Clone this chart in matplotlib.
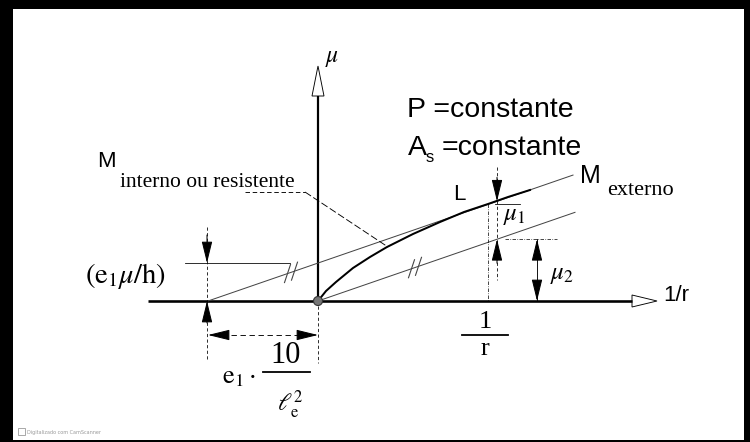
import numpy as np
import matplotlib
matplotlib.use("Agg")
import matplotlib.pyplot as plt
from matplotlib.patches import Polygon, Rectangle, Circle

plt.rcParams['mathtext.fontset'] = 'stix'

# geometry of the diagram (drawing units = pixels, origin at the axes crossing)
slope = 0.345            # slope of the M_externo lines
e_offset = 110           # e1 * 10 / le^2, distance left of the origin
x_r = 170                # position of 1/r on the abscissa
upper_end = 255          # end of the M_externo line
lower_end = 257          # end of the parallel line through the origin

# M_interno curve
curve_x = [0, 8, 18, 35, 52, 69, 95, 122, 146, 170, 190, 212]
curve_y = [0, 10, 19, 33, 44, 54, 67, 79, 89, 97, 104, 111]

# axes extent (tips of the open arrowheads)
x_axis = (-170, 339)
y_axis_top = 235
head = 25

fig = plt.figure(figsize=(7.5, 4.42), dpi=100)
# black scan frame
fig.patches.append(Rectangle((0, 0), 1, 1, transform=fig.transFigure,
                             facecolor='black', edgecolor='none', zorder=-10))
fig.patches.append(Rectangle((13 / 750, 2 / 442), (744 - 13) / 750, (433 - 2) / 442,
                             transform=fig.transFigure, facecolor='white',
                             edgecolor='none', zorder=-9))
ax = fig.add_axes([0, 0, 1, 1])
ax.set_xlim(-318, 750 - 318)
ax.set_ylim(-(442 - 301), 301)
ax.axis('off')
ax.patch.set_alpha(0)

K = 'black'
G = '#444444'
px = 0.72  # points per pixel

def upper(x):
    return slope * (x + e_offset)

def lower(x):
    return slope * x

def arrow(tip, tail, lw=1.0):
    ax.annotate('', xy=tip, xytext=tail,
                arrowprops=dict(arrowstyle='-|>,head_length=0.9,head_width=0.22',
                                mutation_scale=15, lw=lw * px, color=K,
                                shrinkA=0, shrinkB=0))

# axes
ax.plot([x_axis[0], x_axis[1] - head], [0, 0], color=K, lw=2.6 * px,
        solid_capstyle='butt')
ax.plot([0, 0], [0, y_axis_top - 30], color=K, lw=2.2 * px, solid_capstyle='butt')
ax.add_patch(Polygon([[x_axis[1] - head, 6], [x_axis[1], 0], [x_axis[1] - head, -6]],
                     closed=True, facecolor='white', edgecolor=K, lw=0.9 * px))
ax.add_patch(Polygon([[-6, y_axis_top - 30], [0, y_axis_top], [6, y_axis_top - 30]],
                     closed=True, facecolor='white', edgecolor=K, lw=0.9 * px))
ax.add_patch(Circle((0, 0), 4.5, facecolor='#777777', edgecolor='#333333',
                    lw=0.8, zorder=5))

# external moment lines
xu = np.array([-e_offset, upper_end])
ax.plot(xu, upper(xu), color=G, lw=1.0 * px)
xl = np.array([0, lower_end])
ax.plot(xl, lower(xl), color=G, lw=1.0 * px)

# internal (resisting) moment curve
ax.plot(curve_x, curve_y, color=K, lw=2.0 * px)

# parallel marks "//"
for xc, f in [(-27, upper), (97, lower)]:
    for dx in (-3.5, 3.5):
        x0 = xc + dx
        y0 = f(x0)
        ax.plot([x0 - 3, x0 + 3], [y0 - 9, y0 + 9], color=G, lw=1.1 * px)

# leader for M interno
ax.plot([-73, -13], [109, 109], color=K, lw=0.9 * px, dashes=(5, 3))
ax.plot([-13, 70], [109, 54], color=K, lw=0.9 * px, dashes=(8, 3))

# dimension (e1 mu / h)
ax.plot([-e_offset - 1] * 2, [74, -59], color=K, lw=0.8 * px, dashes=(4, 3))
ax.plot([-133, -28], [upper(0), upper(0)], color=K, lw=0.8 * px)
arrow((-e_offset - 1, upper(0)), (-e_offset - 1, 66))
arrow((-e_offset - 1, 0), (-e_offset - 1, -22))

# dimension e1 * 10 / le^2
ax.plot([0, 0], [-5, -62], color=K, lw=0.8 * px, dashes=(4, 3))
ax.plot([-e_offset + 14, -14], [-34, -34], color=K, lw=0.9 * px, dashes=(6, 4))
arrow((-e_offset, -34), (-e_offset + 16, -34))
arrow((0, -34), (-16, -34))

# dimensions at 1/r
ax.plot([x_r, x_r], [upper(x_r), 0], color=K, lw=0.7 * px, dashes=(5, 2, 1, 2))
ax.plot([x_r + 9, x_r + 9], [134, 21], color=K, lw=0.8 * px, dashes=(4, 3))
arrow((x_r + 9, upper(x_r + 9)), (x_r + 9, upper(x_r + 9) + 24))
arrow((x_r + 9, lower(x_r + 9)), (x_r + 9, lower(x_r + 9) - 24))
ax.plot([x_r + 7, x_r + 32], [upper(x_r), upper(x_r)], color=K, lw=0.8 * px)
ax.plot([x_r + 17, x_r + 69], [lower(x_r + 9), lower(x_r + 9)], color=K,
        lw=0.7 * px, dashes=(5, 2, 1, 2))
ax.plot([x_r + 49, x_r + 49], [lower(x_r + 9), 0], color=K, lw=0.9 * px)
arrow((x_r + 49, lower(x_r + 9)), (x_r + 49, lower(x_r + 9) - 18))
arrow((x_r + 49, 0), (x_r + 49, 18))

# labels
sans = dict(family='Liberation Sans', color=K, va='baseline')
serif = dict(family='Liberation Serif', color=K, va='baseline')
ax.text(89, 184, 'P =constante', fontsize=20.5, **sans)
ax.text(90, 146, 'A', fontsize=20.5, **sans)
ax.text(108, 139, 's', fontsize=12, **sans)
ax.text(124, 146, '=constante', fontsize=20.5, **sans)
ax.text(-221, 134, 'M', fontsize=16, **sans)
ax.text(-198, 114, 'interno ou resistente', fontsize=15.5, **serif)
ax.text(262, 118, 'M', fontsize=18, **sans)
ax.text(289, 106, 'externo', fontsize=16, **serif)
ax.text(135, 101, 'L', fontsize=16, **sans)
ax.text(345, 0, '1/r', fontsize=16, **sans)
ax.text(7, 239, r'$\mu$', fontsize=17, color=K, va='baseline')
ax.text(185, 81, r'$\mu_1$', fontsize=18, color=K, va='baseline')
ax.text(232, 22, r'$\mu_2$', fontsize=18, color=K, va='baseline')
ax.text(-233, 18, r'$(\mathrm{e}_1\mu/\mathrm{h})$', fontsize=20.5, color=K, va='baseline')
ax.text(-96, -82, r'$\mathrm{e}_1\cdot$', fontsize=19, color=K, va='baseline')
ax.text(-32, -62, '10', fontsize=22, family='Liberation Serif', color=K,
        ha='center', va='baseline')
ax.plot([-55, -8], [-71, -71], color=K, lw=1.8 * px)
ax.text(-28, -88, r'$\ell_\mathrm{e}^2$', fontsize=17, color=K, ha='center', va='top')
ax.text(167, -27, '1', fontsize=19, family='Liberation Serif', color=K,
        ha='center', va='baseline')
ax.plot([144, 190], [-34, -34], color=K, lw=1.8 * px)
ax.text(167, -54, 'r', fontsize=19, family='Liberation Serif', color=K,
        ha='center', va='baseline')

# scanner watermark
ax.add_patch(Rectangle((18 - 318, 301 - 435), 7, 7, facecolor='none',
                       edgecolor='#9a9a9a', lw=0.6))
ax.text(27 - 318, 301 - 434, 'Digitalizado com CamScanner', fontsize=3.5,
        color='#9a9a9a', va='baseline', family='DejaVu Sans')

fig.savefig('out.png', dpi=100)
